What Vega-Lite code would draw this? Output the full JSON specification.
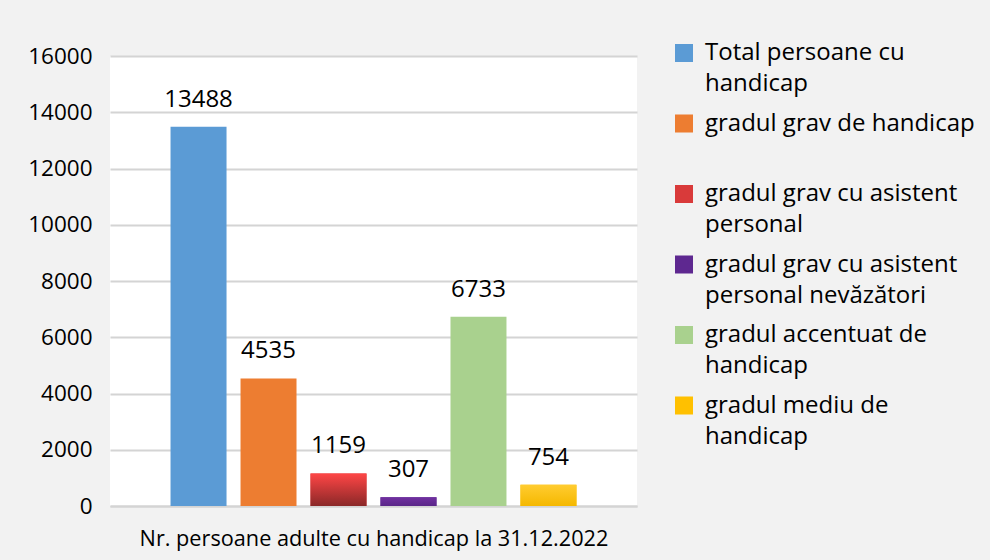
{
  "$schema": "https://vega.github.io/schema/vega-lite/v6.json",
  "autosize": {"type": "none"},
  "width": 527,
  "height": 450,
  "padding": {"left": 110, "top": 56, "right": 353, "bottom": 54},
  "background": "#f2f2f2",
  "config": {
    "view": {"fill": "white", "stroke": null},
    "font": "Open Sans",
    "axisY": {"grid": true, "gridColor": "#d4d4d4"}
  },
  "data": {
    "values": [
      {"cat": "Total persoane cu handicap", "value": 13488},
      {"cat": "gradul grav de handicap", "value": 4535},
      {"cat": "gradul grav cu asistent personal", "value": 1159},
      {"cat": "gradul grav cu asistent personal nevăzători", "value": 307},
      {"cat": "gradul accentuat de handicap", "value": 6733},
      {"cat": "gradul mediu de handicap", "value": 754}
    ]
  },
  "encoding": {
    "x": {
      "field": "cat",
      "type": "nominal",
      "sort": null,
      "scale": {"paddingInner": 0.2, "paddingOuter": 0.865},
      "axis": {
        "labels": false,
        "ticks": false,
        "grid": false,
        "domain": true,
        "domainColor": "#d4d4d4",
        "domainWidth": 2,
        "title": "Nr. persoane adulte cu handicap la 31.12.2022",
        "titleFont": "Open Sans",
        "titleFontSize": 21.7,
        "titleFontWeight": "normal",
        "titleColor": "#000000",
        "titleBaseline": "alphabetic",
        "titlePadding": 39
      }
    },
    "y": {
      "field": "value",
      "type": "quantitative",
      "scale": {"domain": [0, 16000], "nice": false},
      "axis": {
        "values": [0, 2000, 4000, 6000, 8000, 10000, 12000, 14000, 16000],
        "format": "d",
        "title": null,
        "grid": true,
        "domain": false,
        "ticks": false,
        "labelFont": "Open Sans",
        "labelFontSize": 22.5,
        "labelColor": "#000000",
        "labelPadding": 18,
        "gridWidth": 2,
        "gridOpacity": 1
      }
    }
  },
  "layer": [
    {
      "mark": {"type": "bar"},
      "encoding": {
        "color": {
          "field": "cat",
          "type": "nominal",
          "sort": null,
          "scale": {"range": ["#5b9bd5", "#ed7d31", "#d93a3a", "#5e2890", "#a9d18e", "#ffc000"]},
          "legend": {
            "title": null,
            "orient": "none",
            "legendX": 562,
            "legendY": -15,
            "padding": 0,
            "symbolType": "square",
            "symbolSize": 324,
            "symbolStrokeWidth": 0,
            "labelFont": "Open Sans",
            "labelFontSize": 24,
            "labelColor": "#000000",
            "labelOffset": 9,
            "labelLimit": 400,
            "rowPadding": 15.5,
            "labelExpr": "datum.label == 'Total persoane cu handicap' ? ['Total persoane cu', 'handicap'] : datum.label == 'gradul grav de handicap' ? ['gradul grav de handicap', ' '] : datum.label == 'gradul grav cu asistent personal' ? ['gradul grav cu asistent', 'personal'] : datum.label == 'gradul grav cu asistent personal nevăzători' ? ['gradul grav cu asistent', 'personal nevăzători'] : datum.label == 'gradul accentuat de handicap' ? ['gradul accentuat de', 'handicap'] : ['gradul mediu de', 'handicap']",
            "encode": {"labels": {"update": {"lineHeight": {"value": 31}}}}
          }
        }
      }
    },
    {
      "transform": [{"filter": "datum.cat == 'gradul grav cu asistent personal'"}],
      "mark": {
        "type": "bar",
        "fill": {"gradient": "linear", "x1": 0, "y1": 0, "x2": 0, "y2": 1,
          "stops": [{"offset": 0, "color": "#ff4646"}, {"offset": 1, "color": "#8a2828"}]}
      }
    },
    {
      "transform": [{"filter": "datum.cat == 'gradul grav cu asistent personal nevăzători'"}],
      "mark": {
        "type": "bar",
        "fill": {"gradient": "linear", "x1": 0, "y1": 0, "x2": 0, "y2": 1,
          "stops": [{"offset": 0, "color": "#7030a0"}, {"offset": 1, "color": "#5a2688"}]}
      }
    },
    {
      "transform": [{"filter": "datum.cat == 'gradul mediu de handicap'"}],
      "mark": {
        "type": "bar",
        "fill": {"gradient": "linear", "x1": 0, "y1": 0, "x2": 0, "y2": 1,
          "stops": [{"offset": 0, "color": "#ffcc30"}, {"offset": 1, "color": "#f5b800"}]}
      }
    },
    {
      "mark": {"type": "text", "baseline": "alphabetic", "dy": -20, "fontSize": 24, "font": "Open Sans", "color": "#000000"},
      "encoding": {"text": {"field": "value", "type": "quantitative", "format": "d"}}
    }
  ]
}
